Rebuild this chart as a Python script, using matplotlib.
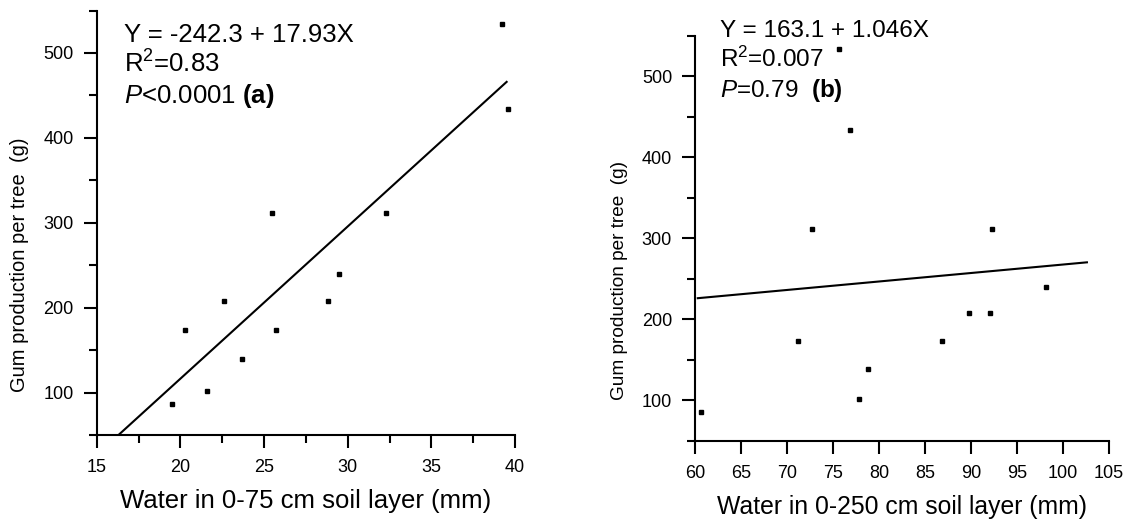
import matplotlib
matplotlib.use("Agg")
import numpy as np
import matplotlib.pyplot as plt
from matplotlib.ticker import MultipleLocator

plt.rcParams["font.family"] = ["Liberation Sans", "DejaVu Sans"]
plt.rcParams["mathtext.fontset"] = "custom"
plt.rcParams["mathtext.rm"] = "Liberation Sans"
plt.rcParams["mathtext.it"] = "Liberation Sans:italic"
plt.rcParams["mathtext.bf"] = "Liberation Sans:bold"

# (a) agua 0-75 cm vs produccion de goma
agua_75 = [19.5, 20.3, 21.6, 22.6, 23.7, 25.7, 28.8, 29.5, 25.5, 32.3, 39.2, 39.6]
goma_a = [86, 174, 102, 208, 139, 174, 208, 240, 312, 312, 534, 434]
recta_a_x = [16.3, 39.5]
coef_a = (-242.3, 17.93)

# (b) agua 0-250 cm vs produccion de goma
agua_250 = [60.7, 71.2, 77.8, 78.8, 86.8, 89.8, 92.1, 98.2, 72.7, 76.8, 75.7, 92.3]
goma_b = [86, 173, 102, 139, 173, 208, 208, 240, 312, 434, 534, 312]
recta_b_x = [60.3, 102.6]
coef_b = (163.1, 1.046)

W, H = 1124, 522
fig = plt.figure(figsize=(W / 100, H / 100), dpi=100)


def px(x0, y_top, x1, y_bot):
    return [x0 / W, 1 - y_bot / H, (x1 - x0) / W, (y_bot - y_top) / H]


def estilo(ax, xlim, xmaj, xmin, tick_fs):
    ax.set_xlim(*xlim)
    ax.set_ylim(50, 550)
    for s in ["top", "right"]:
        ax.spines[s].set_visible(False)
    for s in ["left", "bottom"]:
        ax.spines[s].set_linewidth(1.5)
    ax.xaxis.set_major_locator(MultipleLocator(xmaj))
    if xmin:
        ax.xaxis.set_minor_locator(MultipleLocator(xmin))
    ax.yaxis.set_major_locator(MultipleLocator(100))
    ax.set_yticks(np.arange(50, 551, 100), minor=True)
    ax.set_yticks(np.arange(100, 501, 100))
    ax.tick_params(which="major", length=9.5, width=1.5, labelsize=tick_fs, pad=7)
    ax.tick_params(which="minor", length=5.5, width=1.5)
    ax.tick_params(axis="x", which="major", pad=8)


# panel (a)
ax1 = fig.add_axes(px(96.7, 10.5, 515, 435))
estilo(ax1, (15, 40), 5, 2.5, 13)
ax1.plot(agua_75, goma_a, "s", color="black", markersize=3.2, clip_on=False)
xa = np.array(recta_a_x)
ax1.plot(xa, coef_a[0] + coef_a[1] * xa, color="black", lw=1.5)
ax1.set_xlabel("Water in 0-75 cm soil layer (mm)", fontsize=18.5, labelpad=9)
fig.text(20 / W, 1 - 265 / H, "Gum production per tree  (g)", rotation=90,
         fontsize=14.5, ha="center", va="center")
fig.text(124 / W, 1 - 41.7 / H, "Y = -242.3 + 17.93X", fontsize=18.5, va="baseline")
fig.text(124 / W, 1 - 73 / H, r"R$^2$=0.83", fontsize=18.5, va="baseline")
fig.text(124 / W, 1 - 102.7 / H, r"$\it{P}$<0.0001 $\bf{(a)}$", fontsize=18.5,
         va="baseline")

# panel (b)
ax2 = fig.add_axes(px(695, 35.7, 1109, 441))
estilo(ax2, (60, 105), 5, None, 13)
ax2.plot(agua_250, goma_b, "s", color="black", markersize=3.2, clip_on=False)
xb = np.array(recta_b_x)
ax2.plot(xb, coef_b[0] + coef_b[1] * xb, color="black", lw=1.5)
ax2.set_xlabel("Water in 0-250 cm soil layer (mm)", fontsize=17.8, labelpad=9)
fig.text(619 / W, 1 - 280 / H, "Gum production per tree  (g)", rotation=90,
         fontsize=13.7, ha="center", va="center")
fig.text(720 / W, 1 - 36.7 / H, "Y = 163.1 + 1.046X", fontsize=17.5, va="baseline")
fig.text(720 / W, 1 - 66.7 / H, r"R$^2$=0.007", fontsize=17.5, va="baseline")
fig.text(720 / W, 1 - 96.7 / H, r"$\it{P}$=0.79  $\bf{(b)}$", fontsize=17.5,
         va="baseline")

fig.savefig("out.png", dpi=100)
